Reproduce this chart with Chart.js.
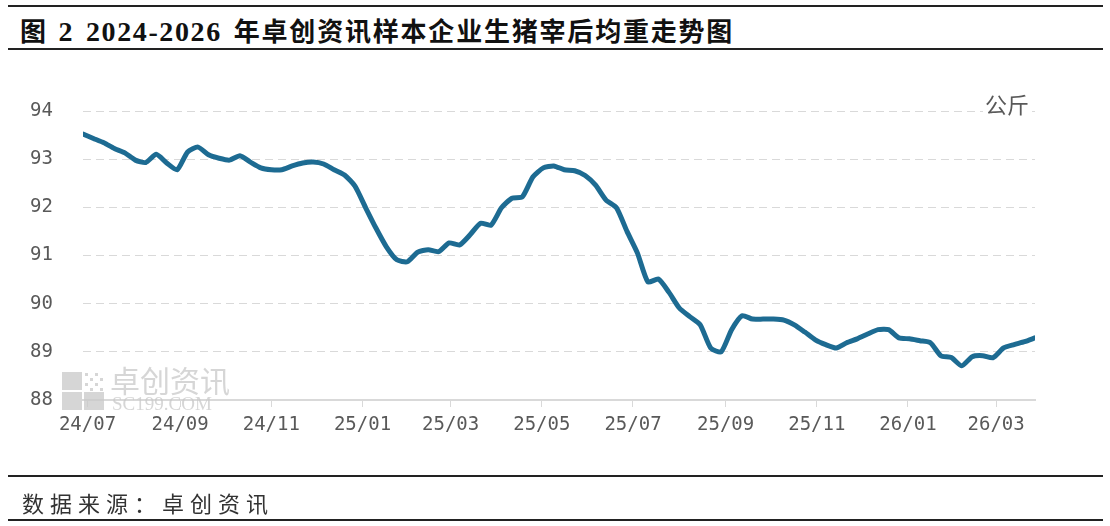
<!DOCTYPE html>
<html lang="zh">
<head>
<meta charset="utf-8">
<title>生猪宰后均重走势图</title>
<script src="https://cdn.jsdelivr.net/npm/chart.js@4.4.1/dist/chart.umd.min.js"></script>
<style>
  html, body { margin: 0; padding: 0; background: #fff; }
  body { width: 1110px; height: 526px; position: relative; overflow: hidden; font-family: "Noto Sans CJK SC", sans-serif; }
  .rule { position: absolute; left: 8px; width: 1095px; background: #222; }
  #title { position: absolute; left: 20px; top: 11px; font-size: 26px; font-weight: 700; color: #111; line-height: 38px; white-space: nowrap; letter-spacing: 0.4px; }
  #title .num { font-family: "Liberation Serif", serif; font-size: 28px; letter-spacing: 1.6px; }
  #title .gap { display: inline-block; width: 12px; }
  #title .cjk { letter-spacing: 1.8px; }
  #source { position: absolute; left: 22px; top: 484px; font-size: 22px; letter-spacing: 6px; color: #333; line-height: 36px; white-space: nowrap; }
  #chartBox { position: absolute; left: 0; top: 0; width: 1110px; height: 526px; }
</style>
</head>
<body>
<div class="rule" style="top:5px;height:2px"></div>
<div id="title">图<span class="gap"></span><span class="num">2</span><span class="gap"></span><span class="num">2024-2026</span><span class="gap"></span><span class="cjk">年卓创资讯样本企业生猪宰后均重走势图</span></div>
<div class="rule" style="top:48px;height:2px"></div>
<div id="chartBox"><canvas id="weightChart" width="1110" height="526"></canvas></div>
<div class="rule" style="top:475px;height:2px"></div>
<div id="source">数据来源：卓创资讯</div>
<div class="rule" style="top:519px;height:2px"></div>

<script>
// weekly series, first week dated below
const startDate = '2024-06-28';
const weekStep = 7;

// average carcass weight, kg
const weights = [
    93.52, 93.43, 93.34, 93.22, 93.13, 92.98, 92.93, 93.10, 92.92, 92.78,
    93.15, 93.25, 93.09, 93.02, 92.98, 93.07, 92.94, 92.82, 92.78, 92.78,
    92.86, 92.92, 92.94, 92.90, 92.78, 92.67, 92.44, 92.00, 91.57, 91.18,
    90.91, 90.87, 91.07, 91.12, 91.08, 91.26, 91.22, 91.43, 91.67, 91.63,
    91.99, 92.19, 92.22, 92.63, 92.82, 92.86, 92.78, 92.76, 92.66, 92.46,
    92.15, 91.99, 91.50, 91.05, 90.45, 90.51, 90.24, 89.91, 89.73, 89.56,
    89.08, 89.00, 89.46, 89.75, 89.68, 89.68, 89.68, 89.66, 89.56, 89.41,
    89.25, 89.15, 89.08, 89.19, 89.27, 89.37, 89.46, 89.46, 89.29, 89.27,
    89.23, 89.19, 88.92, 88.88, 88.71, 88.90, 88.92, 88.88, 89.08, 89.15,
    89.21, 89.29
];

// x axis ticks at month starts
const tickDates = ['2024-07-01', '2024-09-01', '2024-11-01', '2025-01-01', '2025-03-01', '2025-05-01',
    '2025-07-01', '2025-09-01', '2025-11-01', '2026-01-01', '2026-03-01'];
const tickLabels = ['24/07', '24/09', '24/11', '25/01', '25/03', '25/05',
    '25/07', '25/09', '25/11', '26/01', '26/03'];

const yTicks = [88, 89, 90, 91, 92, 93, 94];
const unitLabel = '公斤';

function dayOffset(d) {
    return Math.round((Date.parse(d) - Date.parse(startDate)) / 86400000);
}

const tickDays = tickDates.map(dayOffset);
const labelByDay = {};
tickDays.forEach((d, i) => { labelByDay[d] = tickLabels[i]; });

const points = weights.map((v, i) => ({ x: i * weekStep, y: v }));

const axisFont = { family: '"DejaVu Sans Mono", monospace', size: 19 };
const textGrey = '#595959';

// watermark + unit label
const decorPlugin = {
    id: 'decor',
    beforeDatasetsDraw(chart) {
        const ctx = chart.ctx;
        ctx.save();
        ctx.fillStyle = 'rgba(200,200,200,0.75)';
        ctx.fillRect(62, 372, 20, 18);
        ctx.fillRect(62, 392, 20, 18);
        ctx.fillRect(84, 392, 20, 18);
        for (let r = 0; r < 4; r++) {
            for (let c = 0; c < 4; c++) {
                if ((r + c) % 2 === 0) ctx.fillRect(85 + c * 5, 373 + r * 5, 3, 3);
            }
        }
        ctx.font = '30px "Noto Sans CJK SC"';
        ctx.textBaseline = 'alphabetic';
        ctx.fillText('卓创资讯', 110, 392);
        ctx.font = '19px "Liberation Serif"';
        ctx.fillText('SC199.COM', 112, 410);
        ctx.restore();
    },
    afterDraw(chart) {
        const ctx = chart.ctx;
        ctx.save();
        ctx.font = '22px "Noto Sans CJK SC"';
        const w = ctx.measureText(unitLabel).width;
        const x = chart.chartArea.right - 6 - w;
        ctx.fillStyle = '#fff';
        ctx.fillRect(x - 2, 92, w + 4, 26);
        ctx.fillStyle = textGrey;
        ctx.textBaseline = 'middle';
        ctx.fillText(unitLabel, x, 105);
        ctx.restore();
    }
};

new Chart(document.getElementById('weightChart'), {
    type: 'line',
    data: {
        datasets: [{
            label: '宰后均重',
            data: points,
            borderColor: '#1d6b92',
            borderWidth: 5,
            pointRadius: 0,
            tension: 0.2,
            borderCapStyle: 'round',
            borderJoinStyle: 'round',
            fill: false
        }]
    },
    options: {
        responsive: false,
        animation: false,
        layout: { padding: { left: 0, right: 75, top: 111, bottom: 0 } },
        plugins: {
            legend: { display: false },
            tooltip: { enabled: false }
        },
        scales: {
            x: {
                type: 'linear',
                min: 0,
                max: (weights.length - 1) * weekStep,
                afterBuildTicks: (scale) => { scale.ticks = tickDays.map(v => ({ value: v })); },
                afterFit: (scale) => { scale.height = 126; },
                grid: { drawOnChartArea: false, drawTicks: true, tickLength: 7, color: '#d9d9d9', lineWidth: 1 },
                border: { display: true, color: '#d9d9d9', width: 2 },
                ticks: {
                    autoSkip: false,
                    maxRotation: 0,
                    padding: 7,
                    color: textGrey,
                    font: axisFont,
                    callback: (v) => labelByDay[v] || ''
                }
            },
            y: {
                min: yTicks[0],
                max: yTicks[yTicks.length - 1],
                afterBuildTicks: (scale) => { scale.ticks = yTicks.map(v => ({ value: v })); },
                afterFit: (scale) => { scale.width = 83; },
                grid: { drawTicks: false, color: '#d9d9d9', lineWidth: 1 },
                border: { display: false, dash: [8, 5] },
                ticks: { padding: 30, color: textGrey, font: axisFont }
            }
        }
    },
    plugins: [decorPlugin]
});
</script>
</body>
</html>
